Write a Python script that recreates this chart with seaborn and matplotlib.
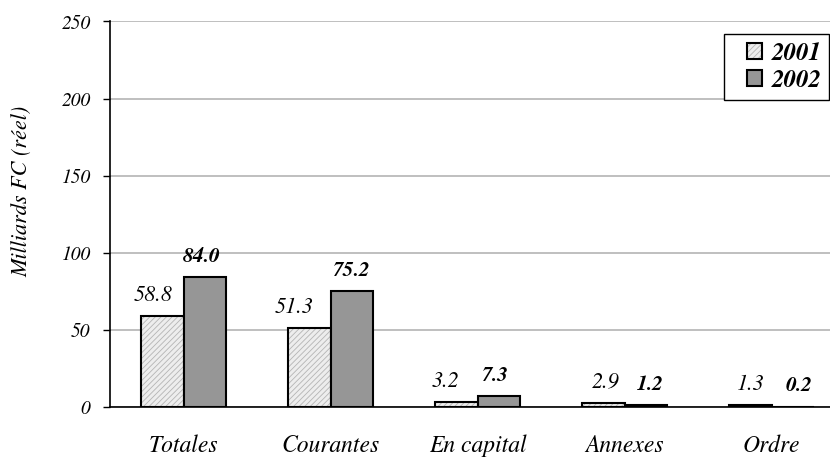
import matplotlib
matplotlib.use("Agg")
import matplotlib.pyplot as plt
from matplotlib.colors import to_rgba
from matplotlib.legend_handler import HandlerPatch
from matplotlib.patches import Rectangle
import seaborn as sns
import pandas as pd

# Dépenses par nature, milliards FC (réel)
categories = ["Totales", "Courantes", "En capital", "Annexes", "Ordre"]
years = ["2001", "2002"]
values_2001 = [58.8, 51.3, 3.2, 2.9, 1.3]
values_2002 = [84.0, 75.2, 7.3, 1.2, 0.2]
y_ticks = [0, 50, 100, 150, 200, 250]

# horizontal nudges (points) for the value labels
nudge_2001 = [-7, -11, -8, 1.5, 0]
nudge_2002 = [-2, 0, -2, 3.5, 5]

df = pd.DataFrame({
    "poste": categories * 2,
    "annee": [years[0]] * len(categories) + [years[1]] * len(categories),
    "valeur": values_2001 + values_2002,
})

sns.set_theme(style="white")
plt.rcParams["font.family"] = ["TeX Gyre Termes", "Liberation Serif", "DejaVu Serif"]
plt.rcParams["hatch.linewidth"] = 0.6
for key in ("text.color", "axes.labelcolor", "xtick.color", "ytick.color"):
    plt.rcParams[key] = "black"

fig = plt.figure(figsize=(8.30, 4.61), dpi=100)
ax = fig.add_axes([110 / 830, 54 / 461, 735 / 830, 385.5 / 461])

sns.barplot(
    data=df, x="poste", y="valeur", hue="annee",
    order=categories, hue_order=years,
    palette={"2001": "#ededed", "2002": "#969696"},
    width=0.573, edgecolor="black", linewidth=1.5,
    saturation=1, errorbar=None, legend=False, ax=ax, zorder=3,
)

# fine diagonal hatch on the 2001 bars
for p in ax.containers[0]:
    p.set_hatch("//////")
    p._hatch_color = to_rgba("#b4b4b4")

ax.set_ylim(0, 250)
ax.set_xlim(-0.5, len(categories) - 0.5)
ax.set_yticks(y_ticks)
ax.set_yticklabels([str(t) for t in y_ticks], fontsize=14, style="italic")
ax.yaxis.grid(True, color="#b4b4b4", linewidth=1.2, zorder=0)
ax.set_axisbelow(True)

ax.set_xticks(range(len(categories)))
ax.set_xticklabels(categories, fontsize=17, style="italic")
ax.set_xticks([i + 0.5 for i in range(len(categories))], minor=True)
ax.tick_params(axis="x", which="major", length=0, pad=20)
ax.tick_params(axis="x", which="minor", length=5, width=1, direction="out", color="black")
ax.tick_params(axis="y", which="major", length=5, width=1, direction="out", pad=9, color="black", left=True)

ax.set_xlabel("")
ax.set_ylabel("Milliards FC (réel)", fontsize=16, style="italic")
ax.yaxis.set_label_coords(-0.1048, 0.56)

for side in ("top", "right"):
    ax.spines[side].set_visible(False)
for side in ("left", "bottom"):
    ax.spines[side].set_color("black")
    ax.spines[side].set_linewidth(1.2)

# value labels
for bars, vals, nudges, weight in (
    (ax.containers[0], values_2001, nudge_2001, "normal"),
    (ax.containers[1], values_2002, nudge_2002, "bold"),
):
    for p, v, dx in zip(bars, vals, nudges):
        ax.annotate(
            f"{v:.1f}", xy=(p.get_x() + p.get_width() / 2, v),
            xytext=(dx, 15), textcoords="offset points",
            ha="center", va="center", fontsize=16 if weight == "normal" else 15.5,
            style="italic", weight=weight, annotation_clip=False,
        )


def small_square(legend, orig_handle, xdescent, ydescent, width, height, fontsize):
    # square swatch sitting near the label, leaving room on its left
    return Rectangle((-xdescent + width - 1.1 * height, -ydescent), height, height)


leg = fig.legend(
    handles=[ax.containers[0][0], ax.containers[1][0]], labels=years,
    loc="upper right", bbox_to_anchor=(829 / 830, (461 - 34) / 461),
    bbox_transform=fig.transFigure,
    prop={"size": 18, "weight": "bold", "style": "italic"},
    frameon=True, fancybox=False, shadow=False,
    handlelength=1.3, handleheight=0.6, handletextpad=0.3,
    borderpad=0.3, labelspacing=0.15, borderaxespad=0,
    handler_map={Rectangle: HandlerPatch(patch_func=small_square)},
)
leg.get_frame().set_edgecolor("black")
leg.get_frame().set_linewidth(1.0)
leg.get_frame().set_facecolor("white")
leg.get_frame().set_alpha(1)

fig.savefig("out.png", dpi=100)
